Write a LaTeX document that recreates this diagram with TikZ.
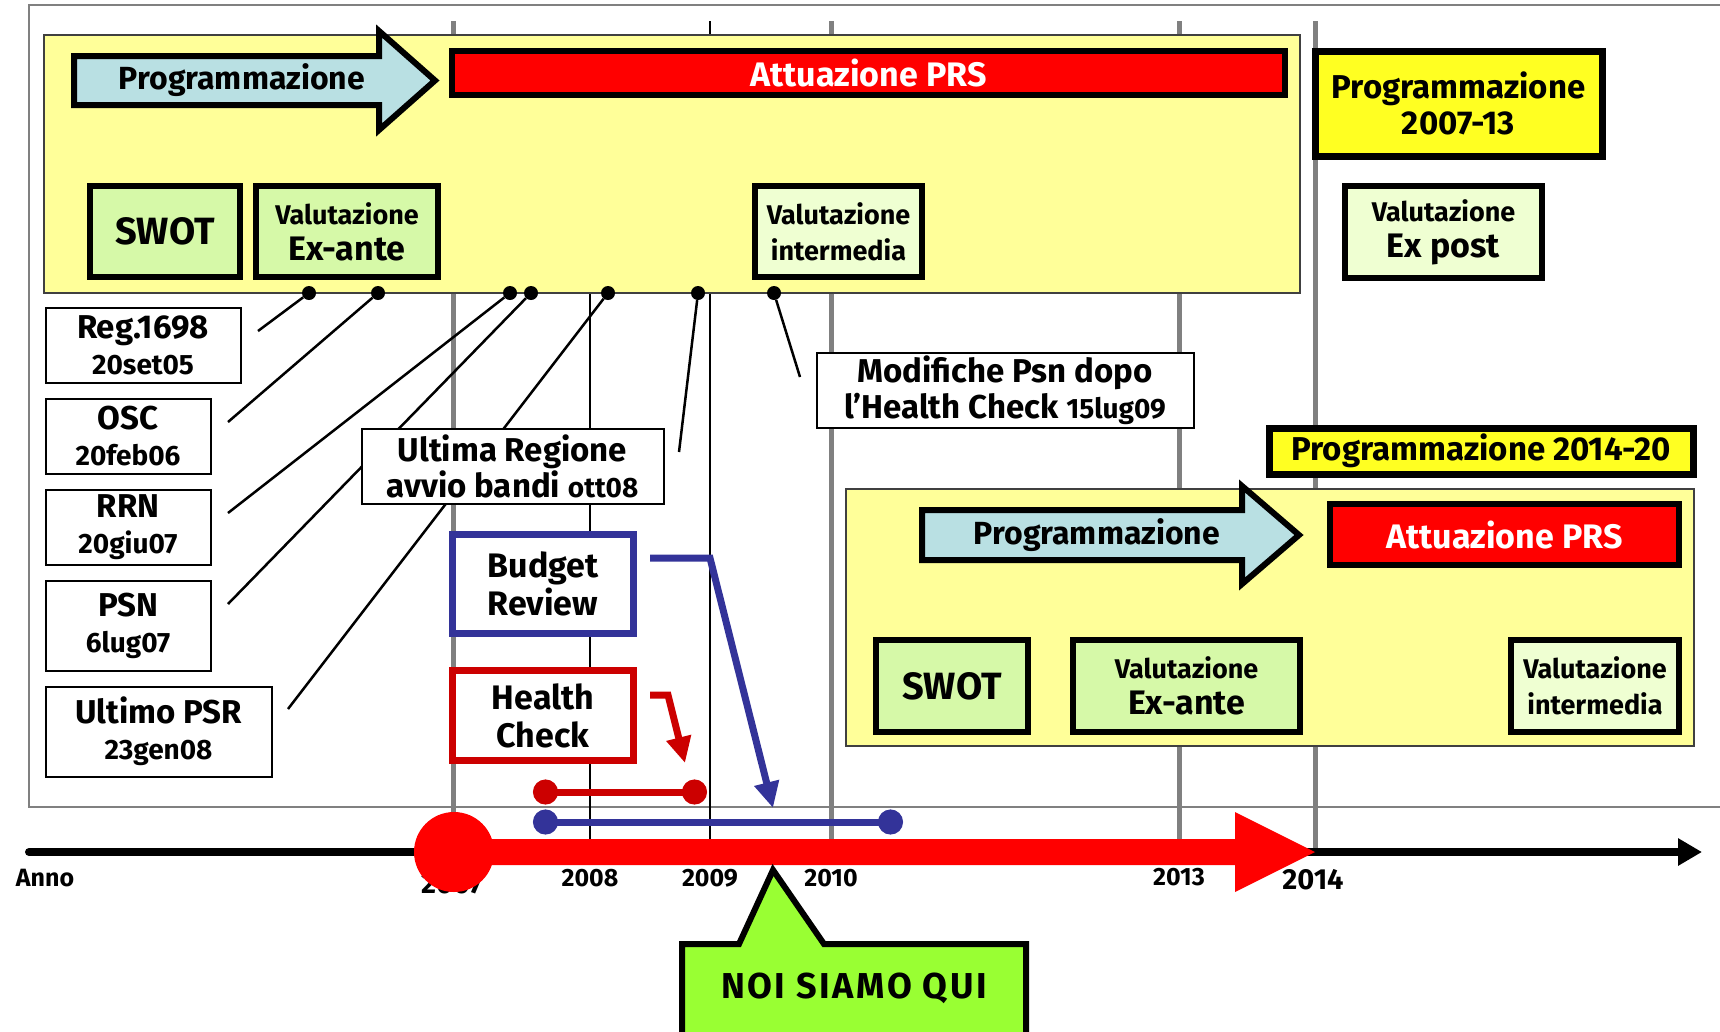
\documentclass[tikz,border=0pt]{standalone}
\usepackage{fontspec}
\setmainfont{Fira Sans}
\usetikzlibrary{arrows.meta}
\definecolor{panelyellow}{HTML}{FFFF99}
\definecolor{arrowblue}{HTML}{B9E0E3}
\definecolor{boxgreen}{HTML}{D6F9A8}
\definecolor{palegreen}{HTML}{EFFFD2}
\definecolor{progyellow}{HTML}{FFFF22}
\definecolor{hcred}{HTML}{CC0000}
\definecolor{brblue}{HTML}{333399}
\definecolor{noigreen}{HTML}{99FF33}
\definecolor{yeargray}{HTML}{808080}
\newcommand{\ftitle}{\fontsize{33}{36}\selectfont\bfseries}
\newcommand{\fbigbox}{\fontsize{34}{36}\selectfont\bfseries}
\newcommand{\fswot}{\fontsize{38}{40}\selectfont\bfseries}
\newcommand{\fdate}{\fontsize{28}{34}\selectfont\bfseries}
\newcommand{\fsub}{\fontsize{27}{34}\selectfont\bfseries}
\newcommand{\fyear}{\fontsize{25}{30}\selectfont\bfseries}
\newcommand{\fyearbig}{\fontsize{29}{34}\selectfont\bfseries}

\begin{document}
\begin{tikzpicture}[x=1pt, y=-1pt,
      panel/.style={rectangle, draw=black!75, line width=1.5pt, fill=panelyellow, inner sep=0pt},
      phasebox/.style={rectangle, draw, line width=6pt, fill=boxgreen, align=center, inner sep=0pt, font=\ftitle},
      evalbox/.style={phasebox, fill=palegreen},
      progbox/.style={rectangle, draw, line width=7pt, fill=progyellow, align=center, inner sep=0pt, font=\ftitle},
      prsbar/.style={rectangle, draw, line width=6pt, fill=red, text=white, font=\fbigbox, inner sep=0pt},
      datebox/.style={rectangle, draw, line width=2pt, fill=white, align=center, inner sep=0pt, font=\ftitle},
      eventbox/.style={rectangle, draw, line width=7pt, fill=white, align=center, inner sep=0pt, font=\fontsize{34}{38}\selectfont\bfseries},
      progarrow/.style={draw, line width=6pt, line join=miter, fill=arrowblue},
      milestone/.style={circle, fill=black, inner sep=0pt, minimum size=14pt},
      pinline/.style={draw, line width=2.5pt},
      yearline/.style={draw=yeargray, line width=5pt},
      thinyear/.style={draw, line width=2pt},
      yearlabel/.style={font=\fyear},
      periodbar/.style={line width=7pt, {Circle[length=25pt]}-{Circle[length=25pt]}},
      shiftarrow/.style={line width=7pt, line join=miter, -{Triangle[length=26pt,width=24pt]}}
  ]
      \useasboundingbox (0,0) rectangle (1720,1031);
      % frame and year lines
      \draw[draw=yeargray, line width=1.5pt] (1725,5) -- (29,5) -- (29,807) -- (1725,807);
      \foreach \yx in {453,831,1179,1315}
        \draw[yearline] (\yx,21) -- (\yx,852);
      \draw[thinyear] (710,21) -- (710,852);
      \draw[thinyear] (590,293) -- (590,852);

      % period 2007-13
      \node (panelA) [panel, minimum width=1256pt, minimum height=258pt] at (672,164) {};
      \draw[progarrow] (74,56) -- (379,56) -- (379,31) -- (435,80.5) -- (379,130) -- (379,105) -- (74,105) -- cycle;
      \node (progA) [font=\fontsize{32}{36}\selectfont\bfseries] at (242,80) {Programmazione};
      \node (prsA) [prsbar, minimum width=833pt, minimum height=44pt] at (868.5,73) {Attuazione PRS};
      \node (swotA) [phasebox, minimum width=150pt, minimum height=91pt, font=\fswot] at (165,231.5) {SWOT};
      \node (exanteA) [phasebox, minimum width=182pt, minimum height=91pt] at (347,231.5) {\fsub Valutazione\\\fbigbox Ex-ante};
      \node (interA) [evalbox, minimum width=167pt, minimum height=91pt] at (838.5,231.5) {\fsub Valutazione\\\fsub intermedia};
      \node (prog0713) [progbox, minimum width=287pt, minimum height=105pt] at (1458.5,103.5) {Programmazione\\2007-13};
      \node (expost) [evalbox, minimum width=197pt, minimum height=92pt] at (1443.5,232) {\fsub Valutazione\\\fbigbox Ex post};

      % period 2014-20
      \node (prog1420) [progbox, minimum width=424pt, minimum height=46pt] at (1481,451) {Programmazione 2014-20};
      \node (panelB) [panel, minimum width=848pt, minimum height=257pt] at (1270,617.5) {};
      \draw[progarrow] (922,510) -- (1242,510) -- (1242,486) -- (1299,535) -- (1242,584) -- (1242,560) -- (922,560) -- cycle;
      \node (progB) [font=\fontsize{32}{36}\selectfont\bfseries] at (1097,535) {Programmazione};
      \node (prsB) [prsbar, minimum width=349pt, minimum height=61pt] at (1504.5,534.5) {Attuazione PRS};
      \node (swotB) [phasebox, minimum width=152pt, minimum height=92pt, font=\fswot] at (952,686) {SWOT};
      \node (exanteB) [phasebox, minimum width=227pt, minimum height=92pt] at (1186.5,686) {\fsub Valutazione\\\fbigbox Ex-ante};
      \node (interB) [evalbox, minimum width=168pt, minimum height=92pt] at (1595,686) {\fsub Valutazione\\\fsub intermedia};

      % milestones on the 2007-13 panel
      \foreach \mname/\mx in {m1/309, m2/378, m3/510, m4/531, m5/608, m6/698, m7/774}
        \node (\mname) [milestone] at (\mx,293) {};
      \coordinate (regend) at (258,331);
      \coordinate (oscend) at (228,422);
      \coordinate (rrnend) at (228,513);
      \coordinate (psnend) at (228,604);
      \coordinate (psrend) at (288,709);
      \coordinate (bandiend) at (679,452);
      \coordinate (modend) at (800,377);
      \path[pinline] (m1) -- (regend);
      \path[pinline] (m2) -- (oscend);
      \path[pinline] (m3) -- (rrnend);
      \path[pinline] (m4) -- (psnend);
      \path[pinline] (m5) -- (psrend);
      \path[pinline] (m6) -- (bandiend);
      \path[pinline] (m7) -- (modend);

      \node (reg) [datebox, minimum width=195pt, minimum height=75pt] at (143,345) {\ftitle Reg.1698\\\fdate 20set05};
      \node (osc) [datebox, minimum width=165pt, minimum height=75pt] at (128,436) {\ftitle OSC\\\fdate 20feb06};
      \node (rrn) [datebox, minimum width=165pt, minimum height=75pt] at (128,527) {\ftitle RRN\\\fdate 20giu07};
      \node (psn) [datebox, minimum width=165pt, minimum height=90pt] at (128,625.5) {\ftitle PSN\\\fdate 6lug07};
      \node (ultpsr) [datebox, minimum width=226pt, minimum height=90pt] at (158.5,731.5) {\ftitle Ultimo PSR\\\fdate 23gen08};
      \node (ultreg) [datebox, minimum width=302pt, minimum height=75pt] at (512.5,466) {\ftitle Ultima Regione\\\ftitle avvio bandi {\fdate ott08}};
      \node (modif) [datebox, minimum width=377pt, minimum height=75pt] at (1005,390) {\ftitle Modifiche Psn dopo\\\ftitle l’Health Check {\fdate 15lug09}};

      % budget review and health check
      \node (budget) [eventbox, draw=brblue, minimum width=181pt, minimum height=99pt] at (543,584) {Budget\\Review};
      \node (health) [eventbox, draw=hcred, minimum width=181pt, minimum height=90pt] at (543,715.5) {Health\\Check};
      \coordinate (brtip) at (773,808);
      \coordinate (hctip) at (685,763);
      \draw[brblue, shiftarrow] ([xshift=13pt, yshift=26pt]budget.east) -- ++(60,0) -- (brtip);
      \draw[hcred, shiftarrow] ([xshift=13pt, yshift=20.5pt]health.east) -- ++(18,0) -- (hctip);
      \coordinate (hcstart) at (533,792);
      \coordinate (hcend) at (707,792);
      \coordinate (brstart) at (533,822);
      \coordinate (brend) at (903,822);
      \draw[hcred, periodbar] (hcstart) -- (hcend);
      \draw[brblue, periodbar] (brstart) -- (brend);

      % time axis
      \coordinate (axisstart) at (29,852);
      \coordinate (axisend) at (1702,852);
      \draw[line width=8pt, line cap=round, -{Triangle[length=24pt,width=26pt]}] (axisstart) -- (axisend);
      \node (anno) [font=\fontsize{25}{28}\selectfont\bfseries] at (45,878) {Anno};
      \node (y2007) [font=\fyearbig] at (452,884) {2007};
      \node (y2008) [yearlabel] at (590,878) {2008};
      \node (y2009) [yearlabel] at (710,878) {2009};
      \node (y2010) [yearlabel] at (831,878) {2010};
      \node (y2013) [yearlabel] at (1179,877) {2013};
      \node (y2014) [font=\fyearbig] at (1313,880) {2014};
      \fill[red] (454,839) -- (1235,839) -- (1235,812) -- (1315,852) -- (1235,892) -- (1235,865) -- (454,865) -- cycle;
      \node (start2007) [circle, fill=red, minimum size=80pt, inner sep=0pt] at (454,852) {};

      % we are here
      \draw[fill=noigreen, line width=6pt, line join=miter] (682,944) -- (739,944) -- (773,870) -- (824,944) -- (1026,944) -- (1026,1045) -- (682,1045) -- cycle;
      \node (noi) [font=\fontsize{36}{40}\selectfont\bfseries\addfontfeatures{LetterSpace=7}] at (854,988) {NOI SIAMO QUI};
  \end{tikzpicture}
\end{document}
